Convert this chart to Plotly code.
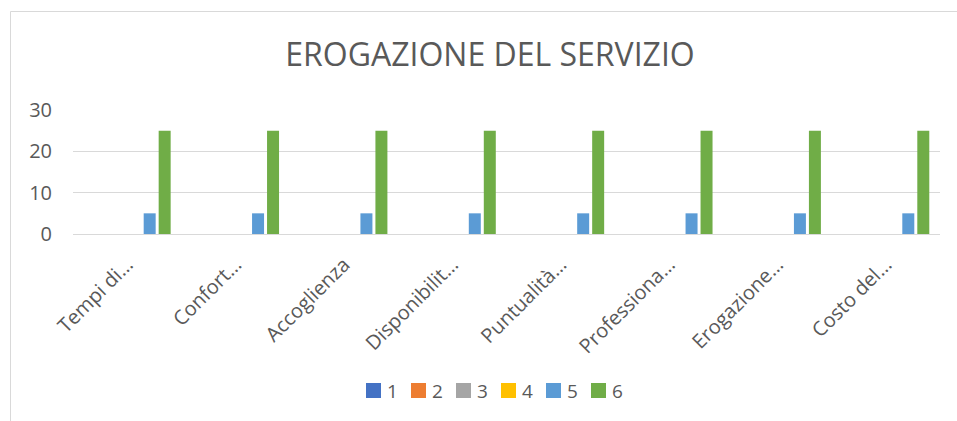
import plotly.graph_objects as go

categories = ["Tempi di…", "Confort…", "Accoglienza", "Disponibilit…", "Puntualità…",
              "Professiona…", "Erogazione…", "Costo del…"]
series_names = ["1", "2", "3", "4", "5", "6"]
values_1 = [0, 0, 0, 0, 0, 0, 0, 0]
values_2 = [0, 0, 0, 0, 0, 0, 0, 0]
values_3 = [0, 0, 0, 0, 0, 0, 0, 0]
values_4 = [0, 0, 0, 0, 0, 0, 0, 0]
values_5 = [5, 5, 5, 5, 5, 5, 5, 5]
values_6 = [25, 25, 25, 25, 25, 25, 25, 25]
colors = ["#4472C4", "#ED7D31", "#A5A5A5", "#FFC000", "#5B9BD5", "#70AD47"]
y_ticks = [0, 10, 20, 30]

all_values = [values_1, values_2, values_3, values_4, values_5, values_6]

FONT = "Open Sans"
GRAY = "#595959"

fig = go.Figure()
for name, vals, col in zip(series_names, all_values, colors):
    fig.add_trace(go.Bar(x=categories, y=vals, name=name, marker_color=col,
                         marker_line_width=0, showlegend=False))

W, H = 957, 421
L, R, T, B = 73, 17, 110, 187
pw, ph = W - L - R, H - T - B

def px_x(p):
    return (p - L) / pw

def px_y(p):
    return (H - B - p) / ph

shapes = [dict(type="rect", xref="paper", yref="paper",
               x0=px_x(10.5), x1=px_x(965), y0=px_y(11.5), y1=px_y(430),
               line=dict(color="#D9D9D9", width=1), layer="below")]
annotations = []
# legend (drawn manually to match compact spacing)
leg_x0, leg_step, sq, leg_yc = 366, 45, 15, 390.5
for i, (name, col) in enumerate(zip(series_names, colors)):
    xs = leg_x0 + i * leg_step
    shapes.append(dict(type="rect", xref="paper", yref="paper",
                       x0=px_x(xs), x1=px_x(xs + sq),
                       y0=px_y(leg_yc - sq / 2), y1=px_y(leg_yc + sq / 2),
                       fillcolor=col, line=dict(width=0)))
    annotations.append(dict(text=name, xref="paper", yref="paper",
                            x=px_x(xs + sq + 4), y=px_y(leg_yc), xanchor="left",
                            yanchor="middle", showarrow=False,
                            font=dict(family=FONT, size=19, color=GRAY)))

fig.update_layout(
    width=W, height=H,
    margin=dict(l=L, r=R, t=T, b=B),
    paper_bgcolor="white", plot_bgcolor="white",
    barmode="group", bargap=0.17, bargroupgap=0.2,
    title=dict(text="EROGAZIONE DEL SERVIZIO", x=px_x(490), xref="paper", xanchor="center",
               y=(H - 55) / H, yanchor="middle",
               font=dict(family=FONT, size=32, color=GRAY)),
    font=dict(family=FONT, color=GRAY),
    showlegend=False,
    shapes=shapes,
    annotations=annotations,
)
fig.update_yaxes(range=[0, 30], tickvals=y_ticks, showgrid=True, gridcolor="#D9D9D9",
                 gridwidth=1, zeroline=False, showline=False,
                 tickfont=dict(family=FONT, size=20, color=GRAY), ticklabelstandoff=20)
fig.update_xaxes(tickangle=-45, showline=True, linecolor="#D9D9D9", linewidth=1,
                 tickfont=dict(family=FONT, size=20, color=GRAY), ticks="",
                 ticklabelstandoff=10)

fig.write_html("out.html")
